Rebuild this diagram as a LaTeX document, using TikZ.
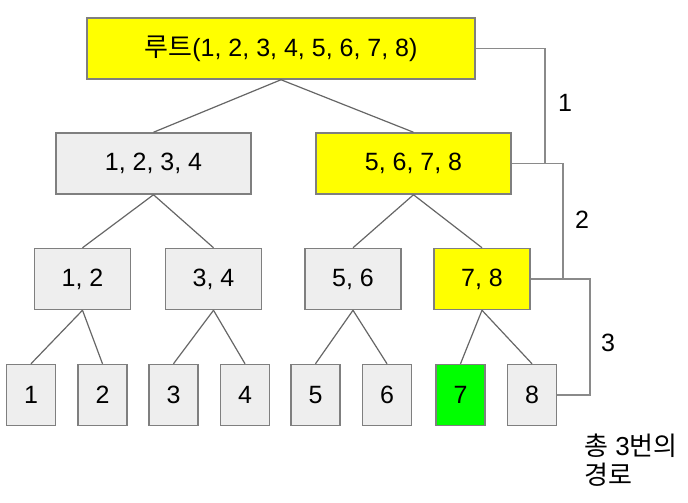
\documentclass[tikz,border=0pt]{standalone}
\usepackage{fontspec}
\setmainfont{Liberation Sans}
\newfontfamily\kr{Noto Sans CJK KR}
\definecolor{boxgray}{HTML}{EEEEEE}
\definecolor{edgegray}{HTML}{7F7F7F}
\definecolor{treeline}{HTML}{666666}
\definecolor{pathline}{HTML}{8A8A8A}
\definecolor{hiyellow}{HTML}{FFFF00}
\definecolor{higreen}{HTML}{00FF00}
\tikzset{
  tbox/.style={draw=edgegray, line width=1.5pt, fill=boxgray, rectangle, inner sep=0pt,
    minimum height=61pt, font=\fontsize{25}{30}\selectfont},
  hl/.style={fill=hiyellow},
  found/.style={fill=higreen},
  w1/.style={minimum width=388pt},
  w2/.style={minimum width=195pt},
  w3/.style={minimum width=96pt},
  w4/.style={minimum width=49pt},
  tline/.style={draw=treeline, line width=1.2pt},
  pline/.style={draw=pathline, line width=1.5pt},
  plabel/.style={font=\fontsize{25}{30}\selectfont, inner sep=0pt}
}
\begin{document}
\begin{tikzpicture}[x=1pt,y=-1pt]
\useasboundingbox (0,0) rectangle (688,503);
\node[tbox,hl,w1] (root) at (281,48.5) {{\kr\fontsize{26}{30}\selectfont 루트}(1, 2, 3, 4, 5, 6, 7, 8)};
\node[tbox,w2] (n1234) at (153.5,163.5) {1, 2, 3, 4};
\node[tbox,hl,w2] (n5678) at (413.5,163.5) {5, 6, 7, 8};
\node[tbox,w3] (n12) at (82.5,279) {1, 2};
\node[tbox,w3] (n34) at (213.5,279) {3, 4};
\node[tbox,w3] (n56) at (353,279) {5, 6};
\node[tbox,hl,w3] (n78) at (482,279) {7, 8};
\node[tbox,w4] (l1) at (31,395) {1};
\node[tbox,w4] (l2) at (102.5,395) {2};
\node[tbox,w4] (l3) at (173.5,395) {3};
\node[tbox,w4] (l4) at (245,395) {4};
\node[tbox,w4] (l5) at (315.5,395) {5};
\node[tbox,w4] (l6) at (387,395) {6};
\node[tbox,found,w4] (l7) at (460.5,395) {7};
\node[tbox,w4] (l8) at (532,395) {8};
% tree edges
\draw[tline] (root.south) -- (n1234.north);
\draw[tline] (root.south) -- (n5678.north);
\draw[tline] (n1234.south) -- (n12.north);
\draw[tline] (n1234.south) -- (n34.north);
\draw[tline] (n5678.south) -- (n56.north);
\draw[tline] (n5678.south) -- (n78.north);
\draw[tline] (n12.south) -- (l1.north);
\draw[tline] (n12.south) -- (l2.north);
\draw[tline] (n34.south) -- (l3.north);
\draw[tline] (n34.south) -- (l4.north);
\draw[tline] (n56.south) -- (l5.north);
\draw[tline] (n56.south) -- (l6.north);
\draw[tline] (n78.south) -- (l7.north);
\draw[tline] (n78.south) -- (l8.north);
% search path
\coordinate (p1) at (545,163.5);
\coordinate (p2) at (563,279);
\coordinate (p3) at (590,395);
\draw[pline] (root.east) -| (p1) -- (n5678.east);
\draw[pline] (n5678.east) -| (p2) -- (n78.east);
\draw[pline] (n78.east) -| (p3) -- (l8.east);
\node[plabel] (s1) at (565,103) {1};
\node[plabel] (s2) at (582,220) {2};
\node[plabel] (s3) at (608,343) {3};
\node[font=\fontsize{26}{29}\selectfont, align=left, anchor=west, inner sep=0pt] (note) at (584,460) {{\kr 총} 3{\kr 번의}\\{\kr 경로}};
\end{tikzpicture}
\end{document}
